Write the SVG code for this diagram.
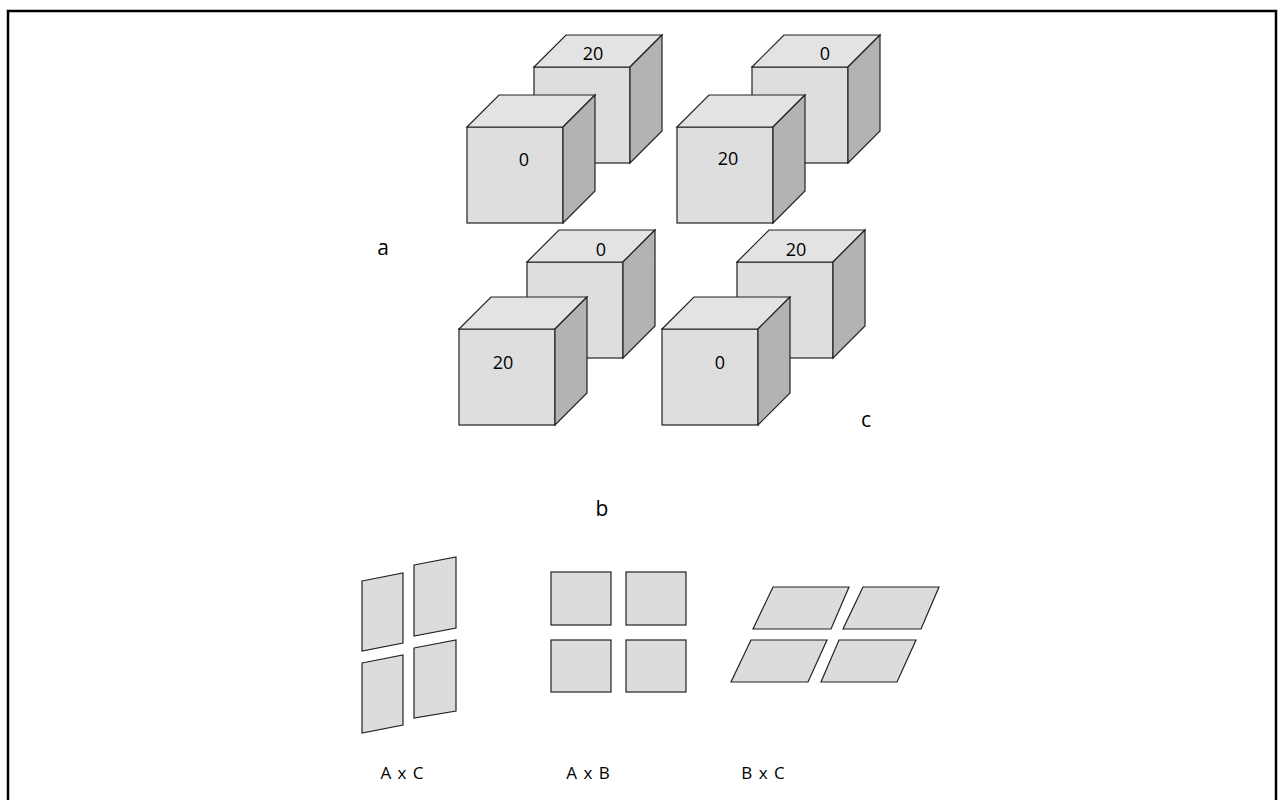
<svg xmlns="http://www.w3.org/2000/svg" width="1284" height="800" viewBox="0 0 1284 800">
<defs>
<style>
.front{fill:#dedede;stroke:#222;stroke-width:1.2}
.top{fill:#e3e3e3;stroke:#222;stroke-width:1.2}
.side{fill:#b3b3b3;stroke:#222;stroke-width:1.2}
.panel{fill:#dcdcdc;stroke:#222;stroke-width:1.2}
.t{font-family:"Open Sans","Liberation Sans",sans-serif;font-size:18px;fill:#000;text-anchor:middle}
.lbl{font-family:"Open Sans","Liberation Sans",sans-serif;font-size:21px;fill:#000;text-anchor:middle}
.cap{font-family:"Open Sans","Liberation Sans",sans-serif;font-size:17px;fill:#000;text-anchor:middle;word-spacing:2px}
</style>
<g id="cube">
<rect class="front" x="0" y="0" width="96" height="96"/>
<polygon class="top" points="0,0 32,-32 128,-32 96,0"/>
<polygon class="side" points="96,0 128,-32 128,64 96,96"/>
</g>
</defs>
<rect x="8" y="11" width="1268" height="800" fill="#fff" stroke="#000" stroke-width="2.5"/>

<g id="pair-top-left">
<use href="#cube" x="534" y="67"/>
<text class="t" x="593" y="60">20</text>
<use href="#cube" x="467" y="127"/>
<text class="t" x="524" y="166">0</text>
</g>
<g id="pair-top-right">
<use href="#cube" x="752" y="67"/>
<text class="t" x="825" y="60">0</text>
<use href="#cube" x="677" y="127"/>
<text class="t" x="728" y="165">20</text>
</g>
<g id="pair-bottom-left">
<use href="#cube" x="527" y="262"/>
<text class="t" x="601" y="256">0</text>
<use href="#cube" x="459" y="329"/>
<text class="t" x="503" y="369">20</text>
</g>
<g id="pair-bottom-right">
<use href="#cube" x="737" y="262"/>
<text class="t" x="796" y="256">20</text>
<use href="#cube" x="662" y="329"/>
<text class="t" x="720" y="369">0</text>
</g>

<g id="axis-labels">
<text class="lbl" x="383" y="255">a</text>
<text class="lbl" x="602" y="516">b</text>
<text class="lbl" x="866" y="427">c</text>
</g>

<g id="view-AxC">
<polygon class="panel" points="362,581 403,573 403,643 362,651"/>
<polygon class="panel" points="414,565 456,557 456,628 414,636"/>
<polygon class="panel" points="362,663 403,655 403,725 362,733"/>
<polygon class="panel" points="414,648 456,640 456,711 414,718"/>
<text class="cap" x="402" y="779">A x C</text>
</g>
<g id="view-AxB">
<rect class="panel" x="551" y="572" width="60" height="53"/>
<rect class="panel" x="626" y="572" width="60" height="53"/>
<rect class="panel" x="551" y="640" width="60" height="52"/>
<rect class="panel" x="626" y="640" width="60" height="52"/>
<text class="cap" x="588" y="779">A x B</text>
</g>
<g id="view-BxC">
<polygon class="panel" points="773,587 849,587 831,629 753,629"/>
<polygon class="panel" points="863,587 939,587 921,629 843,629"/>
<polygon class="panel" points="751,640 827,640 808,682 731,682"/>
<polygon class="panel" points="839,640 916,640 897,682 821,682"/>
<text class="cap" x="763" y="779">B x C</text>
</g>
</svg>
